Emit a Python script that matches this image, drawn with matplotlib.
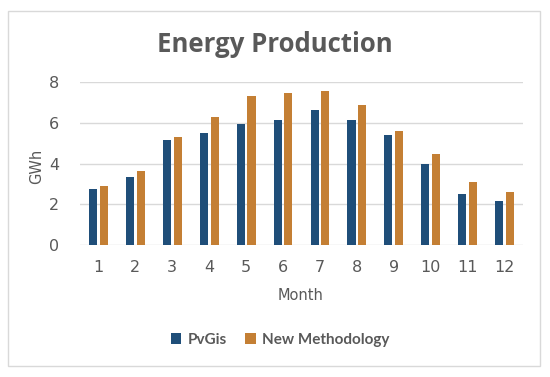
import numpy as np
import matplotlib.pyplot as plt
from matplotlib.patches import Rectangle

months = [str(m) for m in range(1, 13)]
pvgis = [2.75, 3.33, 5.15, 5.49, 5.95, 6.14, 6.61, 6.15, 5.38, 3.98, 2.48, 2.18]
new_method = [2.9, 3.62, 5.29, 6.29, 7.32, 7.45, 7.56, 6.85, 5.61, 4.46, 3.07, 2.61]
series_names = ["PvGis", "New Methodology"]

W, H = 550, 377
fig = plt.figure(figsize=(W / 100, H / 100), dpi=100)
fig.patch.set_facecolor("white")

# outer chart border
fig.patches.append(Rectangle((8 / W, 1 - 366 / H), (540 - 8) / W, (366 - 11) / H,
                             transform=fig.transFigure, fill=False,
                             edgecolor="#D9D9D9", lw=1))

ax = fig.add_axes([80 / W, (H - 245) / H, (523 - 80) / W, (245 - 82) / H])
x = np.arange(len(months))
w = 0.22
ax.bar(x - 0.145, pvgis, w, color="#1F4E79", label=series_names[0])
ax.bar(x + 0.145, new_method, w, color="#C47F34", label=series_names[1])

ax.set_xlim(-0.5, len(months) - 0.5)
ax.set_ylim(0, 8)
ax.set_yticks([0, 2, 4, 6, 8])
ax.set_xticks(x)
ax.set_xticklabels(months)
ax.grid(axis="y", color="#D9D9D9", lw=1)
ax.set_axisbelow(True)
for s in ax.spines.values():
    s.set_visible(False)
ax.tick_params(length=0, colors="#595959", labelsize=11.5)
ax.tick_params(axis="x", pad=11)
ax.tick_params(axis="y", pad=15)

fig.text(37 / W, 1 - 166 / H, "GWh", rotation=90, ha="center", va="center",
         fontsize=10.5, color="#595959")
fig.text(301 / W, 1 - 296 / H, "Month", ha="center", va="center",
         fontsize=10.5, color="#595959")
fig.text(275 / W, 1 - 44 / H, "Energy Production", ha="center", va="center",
         fontsize=18.5, fontweight="bold", color="#595959", family="Open Sans")

fig.legend(loc="center", bbox_to_anchor=(280 / W, 1 - 340 / H), ncol=2, frameon=False,
           handlelength=0.7, handleheight=0.7, handletextpad=0.4, columnspacing=1.2,
           prop={"size": 11, "weight": "bold", "family": "Lato"}, labelcolor="#595959")

fig.savefig("out.png", dpi=100, facecolor="white")
